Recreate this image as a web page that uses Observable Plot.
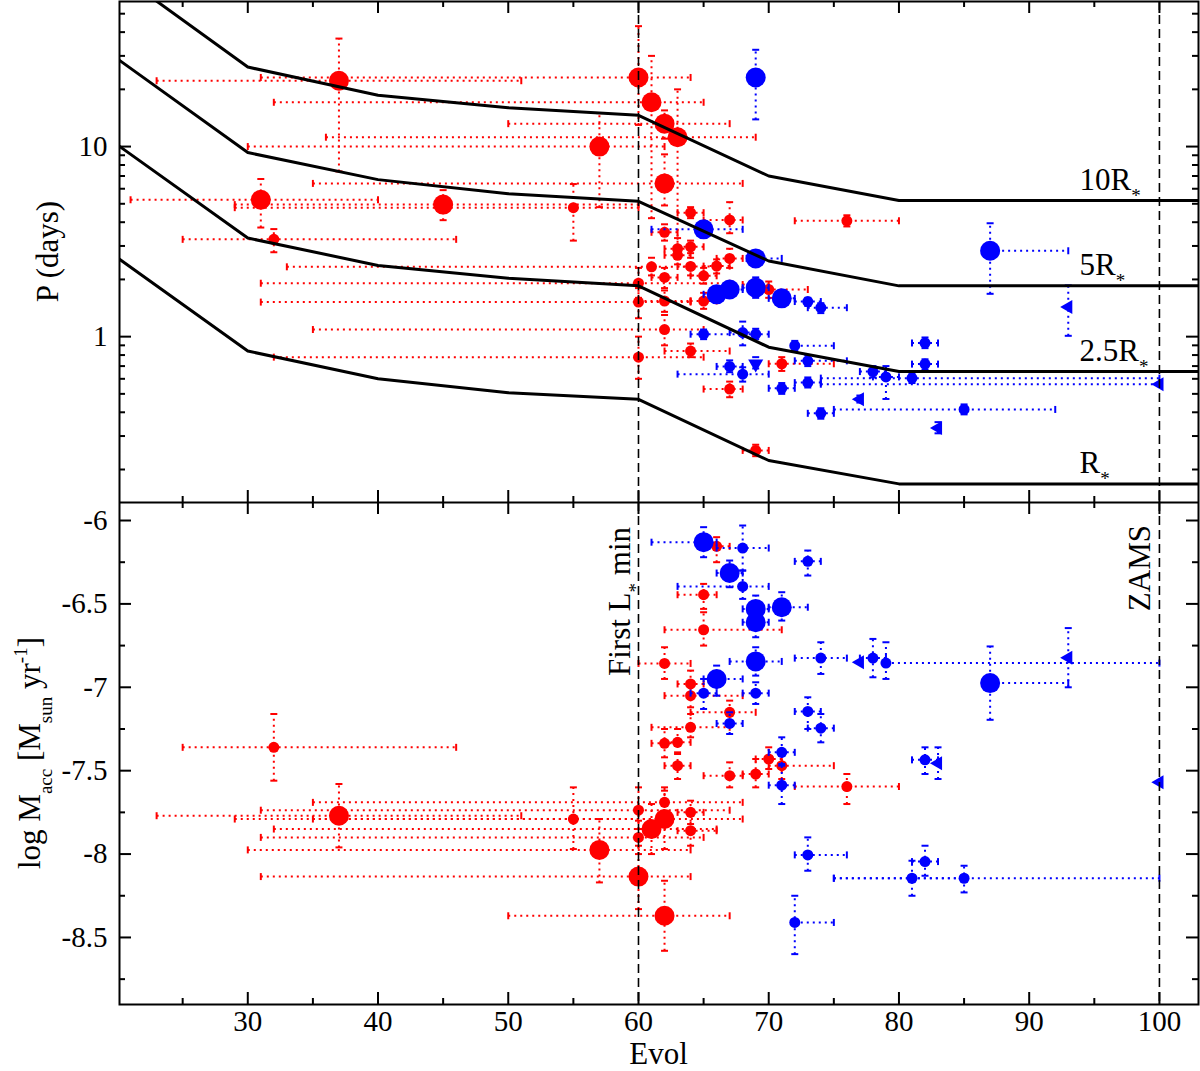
<!DOCTYPE html>
<html><head><meta charset="utf-8">
<script src="https://cdn.jsdelivr.net/npm/d3@7"></script>
<script src="https://cdn.jsdelivr.net/npm/@observablehq/plot@0.6"></script>
<style>
body{margin:0;background:#fff;}
#chart{width:1200px;}
#chart svg{display:block;}
</style></head><body><div id="chart"></div>
<script>
// ---------- DATA ----------
// rows: [Evol, value, EvolLo, EvolHi, valueLo, valueHi]
// Top panel: rotation period P (days)
const pRedBig = [
  [37, 22.2, 23, 51, 7.4, 37], [60, 23.1, 31, 64, 13, 43], [61, 17.1, 32, 65, 4.2, 30],
  [62, 13.2, 50, 67, 11, 15.5], [63, 11.2, 36, 69, 2.9, 20], [57, 10.0, 30, 62, 4.8, 15],
  [62, 6.4, 35, 68, 4.9, 9.1], [31, 5.25, 21, 40, 3.75, 6.75], [45, 4.95, 29, 60, 4.1, 5.9]
];
const pRedSmall = [
  [55, 4.77, 29, 60, 3.2, 6.35], [32, 3.25, 25, 46, 2.78, 3.68], [64, 4.49, 63, 65, 4.2, 4.8],
  [67, 4.11, 65, 68, 3.5, 5.1], [62, 3.54, 61, 63, 3.2, 3.9], [64, 2.97, 63, 65, 2.75, 3.2],
  [63, 2.9, 62, 64, 2.6, 3.3], [63, 2.68, 62, 64, 2.4, 3.0], [61, 2.33, 33, 64, 2.1, 2.6],
  [62, 2.05, 61, 63, 1.8, 2.3], [64, 2.34, 63, 66, 2.1, 2.6], [65, 2.09, 64, 66, 1.9, 2.3],
  [66, 2.35, 65, 67, 2.15, 2.55], [67, 2.58, 66, 68, 2.3, 2.9], [60, 1.91, 31, 67, 1.6, 2.3],
  [60, 1.52, 31, 64, 1.25, 1.8], [62, 1.54, 60, 64, 1.35, 1.75], [65, 1.54, 64, 66, 1.4, 1.7],
  [62, 1.09, 35, 65, 0.9, 1.3], [60, 0.78, 32, 65, 0.6, 1.0], [64, 0.84, 62, 67, 0.78, 0.92],
  [67, 0.53, 65, 68, 0.48, 0.58], [69, 1.88, 68, 70, 1.75, 2.0], [70, 1.77, 69, 73, 1.6, 1.95],
  [71, 0.72, 70, 75, 0.66, 0.78], [69, 0.252, 68, 70, 0.235, 0.27], [76, 4.07, 72, 80, 3.8, 4.35]
];
const pBlueBig = [
  [69, 23.1, null, null, 13.9, 32.3], [65, 3.67, 61, 68, 3.4, 3.9], [69, 2.58, 68.3, 71, 2.4, 2.75],
  [66, 1.67, 65, 67, 1.55, 1.8], [67, 1.77, 66, 68, 1.65, 1.9], [69, 1.81, 68, 70, 1.6, 2.05],
  [71, 1.59, 70, 72, 1.45, 1.75], [87, 2.83, null, 93, 1.68, 3.95]
];
const pBlueSmall = [
  [65, 1.03, 64, 68, 0.97, 1.09], [68, 1.05, 67, 69, 0.9, 1.2], [69, 1.03, 68, 70, 0.97, 1.1],
  [72, 0.896, 72, 75, 0.84, 0.95], [67, 0.697, 66, 68, 0.65, 0.75], [68, 0.635, 63, 70, 0.58, 0.69],
  [71, 0.535, 70, 72, 0.5, 0.57], [73, 1.53, 72, 74, 1.45, 1.6], [74, 1.42, 73, 76, 1.33, 1.5],
  [73, 0.746, 72, 76, 0.7, 0.8], [73, 0.573, 72, 74, 0.54, 0.61], [74, 0.395, 73, 75, 0.37, 0.42],
  [78, 0.655, 77, 79, 0.61, 0.7], [79, 0.614, 78, 80, 0.47, 0.7], [81, 0.605, 74, 100, 0.57, 0.64],
  [82, 0.926, 81, 83, 0.87, 0.99], [82, 0.717, 81, 83, 0.67, 0.76], [85, 0.414, 75, 92, 0.39, 0.44]
];
const pBlueLeft = [
  [93, 1.43, null, null, 1.01, 1.86], [100, 0.562, 74, 100, null, null],
  [77, 0.468, null, null, 0.45, 0.49], [83, 0.331, null, null, 0.31, 0.355]
];
const pBlueDown = [[69, 0.72, null, null, 0.68, 0.78]];

// Bottom panel: log Macc
const mRedBig = [
  [37, -7.77, 23, 51, -7.96, -7.58], [57, -7.975, 30, 64, -8.17, -7.79], [60, -8.135, 31, 64, -8.33, -7.95],
  [61, -7.85, 32, 66, -8.0, -7.7], [62, -7.79, 35, 68, -7.97, -7.62], [62, -8.37, 50, 67, -8.58, -8.16]
];
const mRedSmall = [
  [32, -7.36, 25, 46, -7.56, -7.16], [55, -7.79, 29, 62, -7.97, -7.6], [66, -6.155, 65, 67, -6.25, -6.1],
  [65, -6.445, 63, 66, -6.53, -6.38], [65, -6.655, 62, 71, -6.75, -6.55], [62, -6.857, 60, 64, -6.95, -6.76],
  [64, -6.98, 63, 65, -7.05, -6.9], [64, -7.05, 62, 68, -7.12, -6.97], [67, -7.15, 64, 69, -7.22, -7.08],
  [64, -7.24, 61, 67, -7.3, -7.16], [62, -7.336, 61, 63, -7.42, -7.25], [63, -7.33, 62, 64, -7.4, -7.25],
  [63, -7.47, 62, 64, -7.55, -7.39], [67, -7.53, 65, 68, -7.6, -7.45], [69, -7.52, 68, 70, -7.6, -7.43],
  [70, -7.43, 69, 71, -7.49, -7.36], [71, -7.47, 70, 75, -7.55, -7.4], [76, -7.595, 72, 80, -7.7, -7.52],
  [62, -7.69, 35, 68, -7.76, -7.6], [60, -7.737, 31, 67, -7.85, -7.6], [64, -7.75, 63, 65, -7.82, -7.68],
  [60, -7.9, 31, 65, -8.0, -7.8], [64, -7.86, 63, 66, -7.95, -7.77]
];
const mBlueBig = [
  [65, -6.13, 61, 66, -6.22, -6.04], [67, -6.315, 66, 68, -6.4, -6.24], [69, -6.53, 68, 70, -6.6, -6.45],
  [69, -6.61, 68, 70, -6.7, -6.55], [71, -6.52, 70, 73, -6.6, -6.43], [69, -6.845, 67, 71, -6.93, -6.76],
  [66, -6.95, 65, 68, -7.05, -6.87], [87, -6.975, null, 93, -7.195, -6.755]
];
const mBlueSmall = [
  [68, -6.165, 66, 70, -6.3, -6.03], [68, -6.395, 63, 70, -6.47, -6.3], [65, -7.035, 64, 66, -7.13, -6.95],
  [69, -7.035, 68, 70, -7.1, -6.97], [67, -7.217, 66, 68, -7.28, -7.15], [73, -6.245, 72, 74, -6.33, -6.18],
  [74, -6.825, 72, 76, -6.92, -6.73], [78, -6.825, 77, 79, -6.94, -6.71], [79, -6.855, 79, 100, -6.95, -6.73],
  [73, -7.145, 72, 74, -7.25, -7.06], [74, -7.245, 73, 75, -7.33, -7.16], [71, -7.39, 70, 72, -7.46, -7.3],
  [71, -7.587, 70, 72, -7.7, -7.47], [82, -7.435, 81, 83, -7.52, -7.36], [73, -8.005, 72, 76, -8.1, -7.9],
  [82, -8.045, 81, 83, -8.13, -7.95], [81, -8.145, 75, 85, -8.25, -8.04], [85, -8.145, 75, 100, -8.23, -8.07],
  [72, -8.41, 72, 75, -8.6, -8.25]
];
const mBlueLeft = [
  [77, -6.85, null, null, null, null], [93, -6.823, null, null, -7.0, -6.645],
  [83, -7.455, null, null, -7.55, -7.36], [100, -7.57, null, null, null, null]
];

// Corotation-radius period curves (P in days vs Evol)
const evolGrid = [20, 30, 40, 50, 60, 70, 80, 103];
const p10R = [82, 26.2, 18.6, 16.0, 14.6, 7.0, 5.2, 5.2];
const p5R = [28.9, 9.3, 6.7, 5.65, 5.15, 2.5, 1.85, 1.85];
const p25R = [10.2, 3.3, 2.37, 2.03, 1.85, 0.88, 0.655, 0.655];
const p1R = [2.6, 0.84, 0.6, 0.507, 0.468, 0.223, 0.168, 0.168];
const curveNames = ["10R", "5R", "2.5R", "R"];

// Reference epochs
const markerEvol = [60, 100];
const markerNames = ["First L", "ZAMS"];

// Tick values
const xMajorTicks = [30, 40, 50, 60, 70, 80, 90, 100];
const xMinorTicks = [25, 35, 45, 55, 65, 75, 85, 95];
const pMajorTicks = [1, 10];
const pMinorTicks = [0.2, 0.3, 0.4, 0.5, 0.6, 0.7, 0.8, 0.9, 2, 3, 4, 5, 6, 7, 8, 9, 20, 30, 40, 50];
const mMajorTicks = [-6, -6.5, -7, -7.5, -8, -8.5];
const mMinorTicks = [-6.25, -6.75, -7.25, -7.75, -8.25, -8.75];

// ---------- DRAWING ----------
const FONT = "'Liberation Serif', 'Times New Roman', serif";
const RED = "#ff0000", BLUE = "#0000ff";
const W = 1200, ML = 119, MR = 2;
const xDomain = [20.15, 103];

const rows = arr => arr.map(([x, y, xlo, xhi, ylo, yhi]) => ({x, y, xlo, xhi, ylo, yhi}));
const capV = {draw(c) { c.moveTo(0, -3.5); c.lineTo(0, 3.5); }};
const capH = {draw(c) { c.moveTo(-3.5, 0); c.lineTo(3.5, 0); }};

function errorBars(arr, color) {
  const d = rows(arr);
  const dotted = {stroke: color, strokeWidth: 2, strokeDasharray: "2,4", clip: true};
  const cap = {stroke: color, strokeWidth: 2, fill: "none", clip: true};
  const hx = d.filter(r => r.xlo != null || r.xhi != null);
  const hy = d.filter(r => r.ylo != null || r.yhi != null);
  return [
    Plot.link(hx, {x1: r => r.xlo ?? r.x, x2: r => r.xhi ?? r.x, y1: "y", y2: "y", ...dotted}),
    Plot.link(hy, {x1: "x", x2: "x", y1: r => r.ylo ?? r.y, y2: r => r.yhi ?? r.y, ...dotted}),
    Plot.dot(d.filter(r => r.xlo != null), {x: "xlo", y: "y", symbol: capV, ...cap}),
    Plot.dot(d.filter(r => r.xhi != null), {x: "xhi", y: "y", symbol: capV, ...cap}),
    Plot.dot(d.filter(r => r.ylo != null), {x: "x", y: "ylo", symbol: capH, ...cap}),
    Plot.dot(d.filter(r => r.yhi != null), {x: "x", y: "yhi", symbol: capH, ...cap})
  ];
}
function markers(arr, color, r, symbol = "circle", rotate = 0) {
  return Plot.dot(rows(arr), {x: "x", y: "y", r, fill: color, stroke: "none", symbol, rotate});
}
function ticks(frameW, frameH, yMajor, yMinor) {
  const t = {stroke: "black", strokeWidth: 2};
  return [
    Plot.ruleX(xMajorTicks, {x: d => d, insetBottom: frameH - 12, ...t}),
    Plot.ruleX(xMinorTicks, {x: d => d, insetBottom: frameH - 6, ...t}),
    Plot.ruleX(xMajorTicks, {x: d => d, insetTop: frameH - 12, ...t}),
    Plot.ruleX(xMinorTicks, {x: d => d, insetTop: frameH - 6, ...t}),
    Plot.ruleY(yMajor, {y: d => d, insetRight: frameW - 12, ...t}),
    Plot.ruleY(yMinor, {y: d => d, insetRight: frameW - 6, ...t}),
    Plot.ruleY(yMajor, {y: d => d, insetLeft: frameW - 12, ...t}),
    Plot.ruleY(yMinor, {y: d => d, insetLeft: frameW - 6, ...t})
  ];
}
function richText(svg, {x, y, rotate = 0, anchor = "start", size = 31, parts}) {
  const t = d3.select(svg).append("text")
    .attr("transform", `translate(${x},${y}) rotate(${rotate})`)
    .attr("text-anchor", anchor).attr("font-family", FONT).attr("font-size", size)
    .attr("fill", "black").style("white-space", "pre");
  let shift = 0;
  for (const [s, kind] of parts) {
    const target = kind === "sub" ? 12 : kind === "sup" ? -13 : 0;
    t.append("tspan").attr("dy", target - shift).attr("font-size", kind ? 19 : size).text(s);
    shift = target;
  }
}

const frameW = W - ML - MR;
const topH = 502, topFrameH = 501;
const botH = 569, botFrameH = 502;
const verticalRules = Plot.ruleX(markerEvol, {x: d => d, stroke: "black", strokeWidth: 1.6, strokeDasharray: "9,5"});

const curves = [p10R, p5R, p25R, p1R].map(series =>
  Plot.line(evolGrid.map((e, i) => ({e, p: series[i]})), {x: "e", y: "p", stroke: "black", strokeWidth: 3, clip: true}));

const topPlot = Plot.plot({
  width: W, height: topH, marginLeft: ML, marginRight: MR, marginTop: 1, marginBottom: 0,
  style: {fontFamily: FONT, background: "white"},
  x: {domain: xDomain, axis: null},
  y: {type: "log", domain: [0.1341, 57.97], axis: null},
  marks: [
    ...errorBars(pRedBig, RED), ...errorBars(pRedSmall, RED),
    markers(pRedBig, RED, 10), markers(pRedSmall, RED, 5.5),
    ...errorBars(pBlueBig, BLUE), ...errorBars(pBlueSmall, BLUE), ...errorBars(pBlueLeft, BLUE), ...errorBars(pBlueDown, BLUE),
    markers(pBlueBig, BLUE, 10), markers(pBlueSmall, BLUE, 5.5),
    markers(pBlueLeft, BLUE, 5.2, "triangle", -90), markers(pBlueDown, BLUE, 5.6, "triangle", 180),
    ...curves,
    verticalRules,
    ...ticks(frameW, topFrameH, pMajorTicks, pMinorTicks),
    Plot.text(pMajorTicks, {y: d => d, text: d => String(d), frameAnchor: "left", textAnchor: "end", dx: -12, fontSize: 29, fontFamily: FONT, fill: "black"}),
    Plot.frame({stroke: "black", strokeWidth: 2})
  ]
});

const botPlot = Plot.plot({
  width: W, height: botH, marginLeft: ML, marginRight: MR, marginTop: 0, marginBottom: botH - botFrameH,
  style: {fontFamily: FONT, background: "white"},
  x: {domain: xDomain, axis: null},
  y: {domain: [-8.902, -5.892], axis: null},
  marks: [
    ...errorBars(mRedBig, RED), ...errorBars(mRedSmall, RED),
    markers(mRedBig, RED, 10), markers(mRedSmall, RED, 5.5),
    ...errorBars(mBlueBig, BLUE), ...errorBars(mBlueSmall, BLUE), ...errorBars(mBlueLeft, BLUE),
    markers(mBlueBig, BLUE, 10), markers(mBlueSmall, BLUE, 5.5),
    markers(mBlueLeft, BLUE, 5.2, "triangle", -90),
    verticalRules,
    ...ticks(frameW, botFrameH, mMajorTicks, mMinorTicks),
    Plot.text(mMajorTicks, {y: d => d, text: d => String(d), frameAnchor: "left", textAnchor: "end", dx: -12, fontSize: 29, fontFamily: FONT, fill: "black"}),
    Plot.text(xMajorTicks, {x: d => d, text: d => String(d), frameAnchor: "bottom", dy: 26, fontSize: 29, fontFamily: FONT, fill: "black"}),
    Plot.frame({stroke: "black", strokeWidth: 2})
  ]
});

// annotations positioned through the plots' own scales
const sxT = topPlot.scale("x"), syT = topPlot.scale("y");
const labelEvol = 93.9;
[p10R, p5R, p25R, p1R].forEach((series, i) => {
  richText(topPlot, {x: sxT.apply(labelEvol), y: syT.apply(series[series.length - 1]) - 10,
    parts: [[curveNames[i]], ["*", "sub"]]});
});
richText(topPlot, {x: 58, y: (1 + 502) / 2, rotate: -90, anchor: "middle", parts: [["P (days)"]]});

const sxB = botPlot.scale("x");
richText(botPlot, {x: sxB.apply(markerEvol[0]) - 8, y: 25, rotate: -90, anchor: "end",
  parts: [[markerNames[0]], ["*", "sub"], [" min"]]});
richText(botPlot, {x: sxB.apply(markerEvol[1]) - 9, y: 23, rotate: -90, anchor: "end", parts: [[markerNames[1]]]});
richText(botPlot, {x: 40, y: 251, rotate: -90, anchor: "middle",
  parts: [["log M"], ["acc", "sub"], [" [M"], ["sun", "sub"], [" yr"], ["-1", "sup"], ["]"]]});
richText(botPlot, {x: (ML + W - MR) / 2, y: 562, anchor: "middle", parts: [["Evol"]]});

const chart = document.getElementById("chart");
chart.appendChild(topPlot);
chart.appendChild(botPlot);
</script></body></html>
